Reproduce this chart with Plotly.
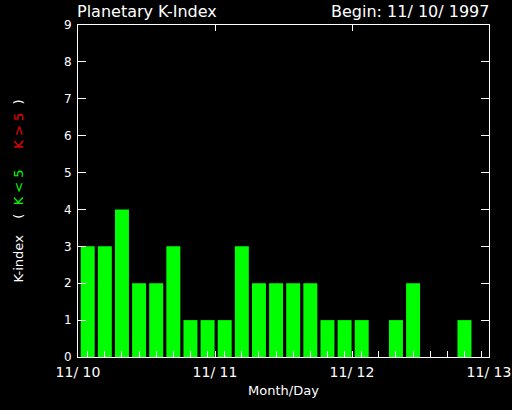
import plotly.graph_objects as go

# 3-hourly Planetary K-index, starting 11/10/1997
kp_values = [3, 3, 4, 2, 2, 3, 1, 1, 1, 3, 2, 2, 2, 2, 1, 1, 1, 0, 1, 2, 0, 0, 1, 0]
interval_hours = 3
bar_center_offset = 1.7   # hours into each 3-hour interval
day_tick_hours = [0, 24, 48, 72]
day_tick_labels = ["11/ 10", "11/ 11", "11/ 12", "11/ 13"]
y_ticks = list(range(0, 10))

x_hours = [i * interval_hours + bar_center_offset for i in range(len(kp_values))]
colors = ["#00ff00" if v < 5 else "#ff0000" for v in kp_values]

FONT = "DejaVu Sans"
NB = "\u00a0"

ytitle = ("K-index" + NB * 4 + "(" + NB * 2
          + "<span style='color:#00ff00'>K" + NB + "&lt;" + NB + "5</span>"
          + NB * 5
          + "<span style='color:#ff0000'>K" + NB + "&gt;" + NB + "5</span>"
          + NB * 2 + ")")

fig = go.Figure()
fig.add_trace(go.Bar(
    x=x_hours, y=kp_values, width=2.45,
    marker=dict(color=colors, line=dict(width=0)),
    hoverinfo="skip",
))

fig.update_layout(
    width=512, height=410,
    margin=dict(l=78, r=23, t=25, b=53),
    paper_bgcolor="black", plot_bgcolor="black",
    showlegend=False,
    font=dict(family=FONT, color="white", size=12),
    xaxis=dict(
        range=[0, 72], tickvals=day_tick_hours, ticktext=day_tick_labels,
        ticks="inside", ticklen=6, tickcolor="white", tickwidth=1,
        minor=dict(tick0=bar_center_offset, dtick=interval_hours, ticks="inside",
                   ticklen=6, tickcolor="white", tickwidth=1),
        showline=True, linecolor="white", linewidth=1, mirror=True,
        showgrid=False, zeroline=False, automargin=False,
        tickfont=dict(size=14, family=FONT, color="white"),
        ticklabelstandoff=2,
        title=dict(text="Month/Day", font=dict(size=13, family=FONT, color="white"), standoff=7),
    ),
    xaxis2=dict(
        overlaying="x", side="top", range=[0, 72],
        tickvals=day_tick_hours[1:-1], ticks="inside", ticklen=6,
        tickcolor="white", showticklabels=False, showline=False,
        showgrid=False, zeroline=False, automargin=False,
    ),
    yaxis=dict(
        range=[0, 9], tickvals=y_ticks,
        ticks="inside", ticklen=8, tickcolor="white", tickwidth=1,
        showline=True, linecolor="white", linewidth=1, mirror="ticks",
        showgrid=False, zeroline=False, automargin=False,
        tickfont=dict(size=12, family=FONT, color="white"),
        ticklabelstandoff=3,
        title=dict(text=ytitle, font=dict(size=13, family=FONT, color="white"), standoff=37),
    ),
    annotations=[
        dict(text="Planetary K-Index", xref="paper", yref="paper",
             x=-0.008, y=1.0, xanchor="left", yanchor="bottom", yshift=2,
             showarrow=False, font=dict(size=16, family=FONT, color="white")),
        dict(text="Begin: 11/ 10/ 1997", xref="paper", yref="paper",
             x=1.005, y=1.0, xanchor="right", yanchor="bottom", yshift=2,
             showarrow=False, font=dict(size=16, family=FONT, color="white")),
    ],
)
# invisible trace to anchor the top axis
fig.add_trace(go.Scatter(x=[0], y=[0], xaxis="x2", mode="markers",
                         marker=dict(opacity=0), hoverinfo="skip"))

fig.write_html("out.html",
               config={"displayModeBar": False},
               post_script="document.body.style.margin='0';document.body.style.overflow='hidden';")
